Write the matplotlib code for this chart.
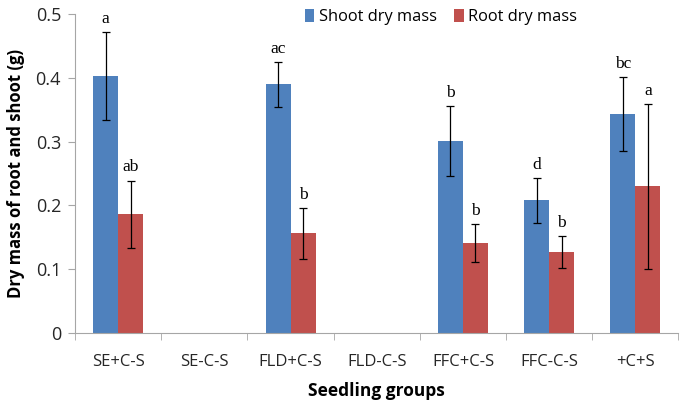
import numpy as np
import matplotlib.pyplot as plt

groups = ["SE+C-S", "SE-C-S", "FLD+C-S", "FLD-C-S", "FFC+C-S", "FFC-C-S", "+C+S"]
shoot = [0.403, np.nan, 0.390, np.nan, 0.301, 0.208, 0.343]
shoot_err = [0.069, np.nan, 0.035, np.nan, 0.055, 0.035, 0.058]
root = [0.186, np.nan, 0.156, np.nan, 0.141, 0.127, 0.230]
root_err = [0.053, np.nan, 0.040, np.nan, 0.030, 0.025, 0.129]
shoot_letters = ["a", "", "ac", "", "b", "d", "bc"]
root_letters = ["ab", "", "b", "", "b", "b", "a"]

blue = "#4F81BD"
red = "#C0504D"
grey = "#A6A6A6"

fig = plt.figure(figsize=(6.85, 4.05), dpi=100)
ax = fig.add_axes([0.1095, 0.178, 0.881, 0.787])

x = np.arange(len(groups))
w = 0.29
ax.bar(x - w / 2, shoot, w, color=blue, label="Shoot dry mass",
       yerr=shoot_err, error_kw=dict(ecolor="black", elinewidth=0.9, capsize=3, capthick=0.9))
ax.bar(x + w / 2, root, w, color=red, label="Root dry mass",
       yerr=root_err, error_kw=dict(ecolor="black", elinewidth=0.9, capsize=3, capthick=0.9))

# lettres de significativite
for i in range(len(groups)):
    if shoot_letters[i]:
        ax.text(x[i] - w / 2, shoot[i] + shoot_err[i] + 0.008, shoot_letters[i],
                ha="center", va="bottom", fontsize=12.5, family="Liberation Serif")
    if root_letters[i]:
        ax.text(x[i] + w / 2, root[i] + root_err[i] + 0.008, root_letters[i],
                ha="center", va="bottom", fontsize=12.5, family="Liberation Serif")

ax.set_xlim(-0.5, len(groups) - 0.5)
ax.set_ylim(0, 0.5)
ax.set_yticks([0, 0.1, 0.2, 0.3, 0.4, 0.5])
ax.set_yticklabels(["0", "0.1", "0.2", "0.3", "0.4", "0.5"])
ax.set_xticks(x)
ax.set_xticklabels(groups)
ax.set_xticks(np.arange(len(groups) + 1) - 0.5, minor=True)
ax.tick_params(axis="x", which="major", length=0, pad=15, labelsize=12)
ax.tick_params(axis="x", which="minor", length=5, color=grey, direction="out")
ax.tick_params(axis="y", length=5, color=grey, labelsize=13, pad=5)

for s in ["top", "right"]:
    ax.spines[s].set_visible(False)
for s in ["left", "bottom"]:
    ax.spines[s].set_color(grey)

for lab in ax.get_xticklabels() + ax.get_yticklabels():
    lab.set_family("Open Sans")
    lab.set_color("#262626")

ax.set_xlabel("Seedling groups", fontsize=12.5, fontweight="bold", family="Open Sans", labelpad=9)
ax.set_ylabel("Dry mass of root and shoot (g)", fontsize=12, fontweight="bold", family="Open Sans", labelpad=8)

fig.legend(loc="center", bbox_to_anchor=(441 / 685, 1 - 17 / 405), ncol=2, frameon=False,
           prop={"family": "Open Sans", "size": 11.8}, handlelength=0.6, handleheight=0.8,
           handletextpad=0.3, columnspacing=1.0, borderaxespad=0)

fig.savefig("out.png", dpi=100)
